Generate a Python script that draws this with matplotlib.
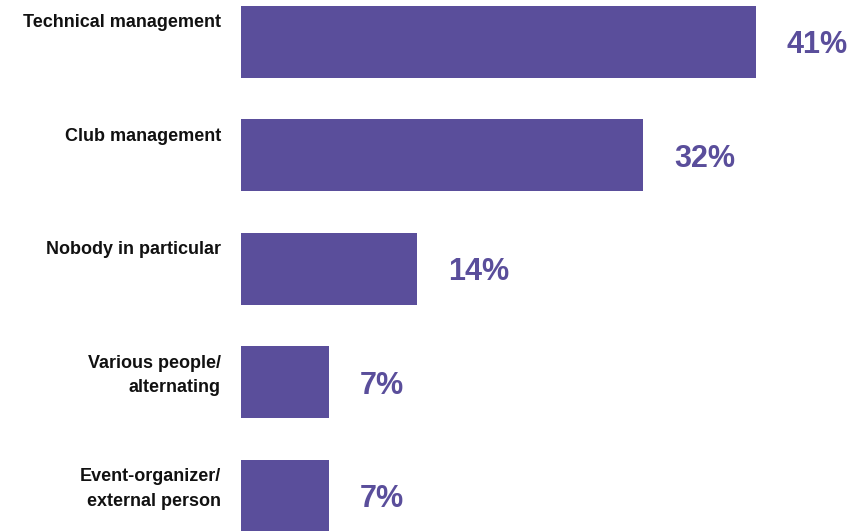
import matplotlib.pyplot as plt

# data
labels = ['Technical management', 'Club management', 'Nobody in particular',
          'Various people/\nalternating', 'Event-organizer/\nexternal person']
values = [41, 32, 14, 7, 7]

bar_color = '#5a4e9b'

fig = plt.figure(figsize=(8.56, 5.31), dpi=100)
ax = fig.add_axes([241 / 856, 0, 1 - 241 / 856, 1])

pos = list(range(len(values)))
ax.barh(pos, values, height=0.635, color=bar_color)

ax.set_xlim(0, 615 / 12.55)
ax.set_ylim(4.31, -0.37)
ax.axis('off')

for i, (lab, v) in enumerate(zip(labels, values)):
    ax.text(-1.6, i - 0.245, lab, ha='right', va='top', fontsize=13,
            fontweight='bold', family='Liberation Sans', linespacing=1.6,
            color='#111111', clip_on=False)
    ax.text(v + 2.5, i + 0.03, f'{v}%', ha='left', va='center', fontsize=22,
            fontweight='bold', family='Liberation Sans', color=bar_color)

plt.savefig('out.png', dpi=100)
